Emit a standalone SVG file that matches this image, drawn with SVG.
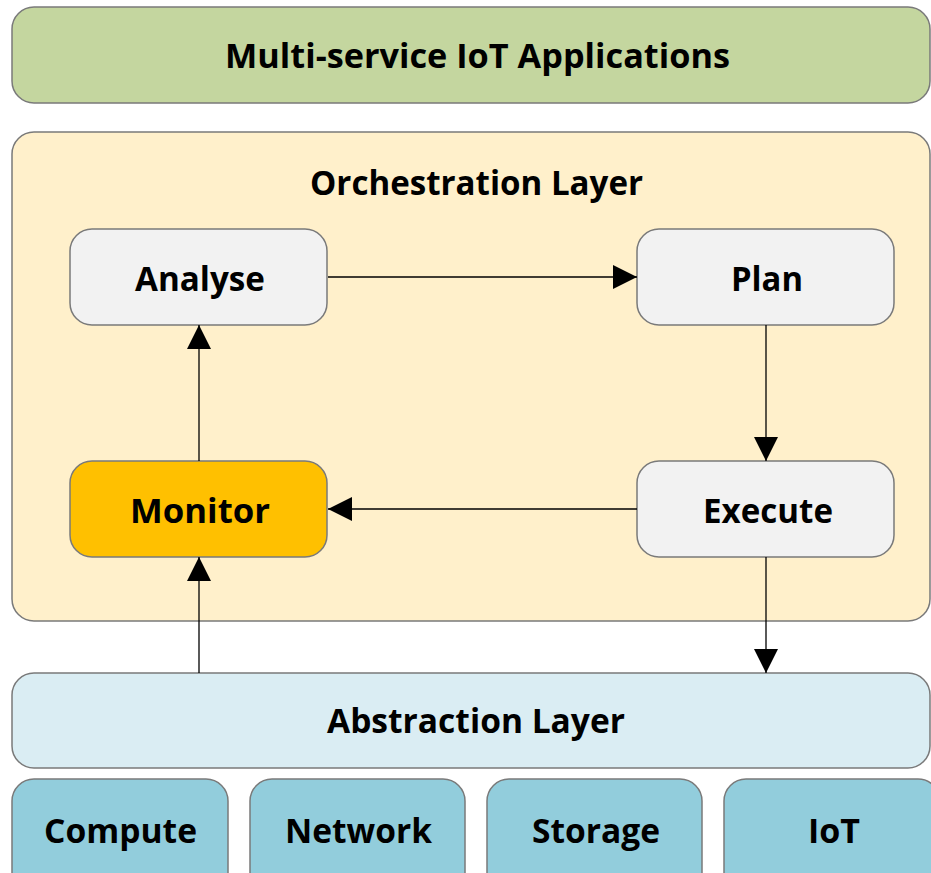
<svg xmlns="http://www.w3.org/2000/svg" width="931" height="873" viewBox="0 0 931 873">
  <style>
    .box { stroke: #7a7a7a; stroke-width: 1.5; }
    .lbl { font-family: "Open Sans", "Liberation Sans", sans-serif; font-weight: bold; font-size: 34px; fill: #000; }
    .edge { stroke: #000; stroke-width: 1.3; fill: none; }
  </style>
  <defs>
    <marker id="arrow" viewBox="0 0 24 24" refX="24" refY="12" markerWidth="24" markerHeight="24" markerUnits="userSpaceOnUse" orient="auto">
      <path d="M0,0 L24,12 L0,24 Z" fill="#000"/>
    </marker>
  </defs>
  <rect width="931" height="873" fill="#fff"/>

  <g id="applications">
    <rect class="box" x="12" y="7" width="918" height="96" rx="22" fill="#C4D69F"/>
    <text class="lbl" x="225" y="68" textLength="505" lengthAdjust="spacingAndGlyphs">Multi-service IoT Applications</text>
  </g>

  <g id="orchestration">
    <rect class="box" x="12" y="132" width="918" height="489" rx="22" fill="#FFF0CB"/>
    <text class="lbl" x="310" y="195" textLength="333" lengthAdjust="spacingAndGlyphs">Orchestration Layer</text>
  </g>

  <g id="analyse">
    <rect class="box" x="70" y="229" width="257" height="96" rx="22" fill="#F2F2F2"/>
    <text class="lbl" x="135" y="291" textLength="130" lengthAdjust="spacingAndGlyphs">Analyse</text>
  </g>

  <g id="plan">
    <rect class="box" x="637" y="229" width="257" height="96" rx="22" fill="#F2F2F2"/>
    <text class="lbl" x="731" y="291" textLength="72" lengthAdjust="spacingAndGlyphs">Plan</text>
  </g>

  <g id="monitor">
    <rect class="box" x="70" y="461" width="257" height="96" rx="22" fill="#FFC000"/>
    <text class="lbl" x="130" y="523" textLength="140" lengthAdjust="spacingAndGlyphs">Monitor</text>
  </g>

  <g id="execute">
    <rect class="box" x="637" y="461" width="257" height="96" rx="22" fill="#F2F2F2"/>
    <text class="lbl" x="703" y="523" textLength="130" lengthAdjust="spacingAndGlyphs">Execute</text>
  </g>

  <g id="abstraction">
    <rect class="box" x="12" y="673" width="918" height="95" rx="22" fill="#DAEDF3"/>
    <text class="lbl" x="327" y="733" textLength="298" lengthAdjust="spacingAndGlyphs">Abstraction Layer</text>
  </g>

  <g id="compute">
    <rect class="box" x="12" y="779" width="216" height="120" rx="22" fill="#92CDDC"/>
    <text class="lbl" x="44" y="843" textLength="153" lengthAdjust="spacingAndGlyphs">Compute</text>
  </g>

  <g id="network">
    <rect class="box" x="250" y="779" width="215" height="120" rx="22" fill="#92CDDC"/>
    <text class="lbl" x="285" y="843" textLength="147" lengthAdjust="spacingAndGlyphs">Network</text>
  </g>

  <g id="storage">
    <rect class="box" x="487" y="779" width="215" height="120" rx="22" fill="#92CDDC"/>
    <text class="lbl" x="532" y="843" textLength="128" lengthAdjust="spacingAndGlyphs">Storage</text>
  </g>

  <g id="iot">
    <rect class="box" x="724" y="779" width="216" height="120" rx="22" fill="#92CDDC"/>
    <text class="lbl" x="808" y="843" textLength="52" lengthAdjust="spacingAndGlyphs">IoT</text>
  </g>

  <g id="connectors">
    <line class="edge" x1="328" y1="277" x2="637" y2="277" marker-end="url(#arrow)"/>
    <line class="edge" x1="766" y1="325" x2="766" y2="461" marker-end="url(#arrow)"/>
    <line class="edge" x1="637" y1="509" x2="328" y2="509" marker-end="url(#arrow)"/>
    <line class="edge" x1="199" y1="461" x2="199" y2="325" marker-end="url(#arrow)"/>
    <line class="edge" x1="199" y1="673" x2="199" y2="557" marker-end="url(#arrow)"/>
    <line class="edge" x1="766" y1="557" x2="766" y2="673" marker-end="url(#arrow)"/>
  </g>
</svg>
